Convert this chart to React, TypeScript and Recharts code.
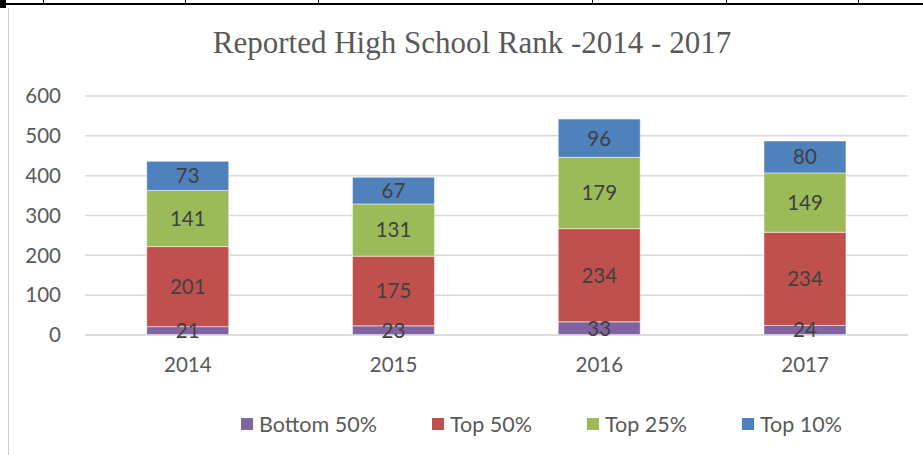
import { Bar, BarChart, CartesianGrid, LabelList, XAxis, YAxis } from "recharts";

const years = ["2014", "2015", "2016", "2017"];
const bottom50 = [21, 23, 33, 24];
const top50 = [201, 175, 234, 234];
const top25 = [141, 131, 179, 149];
const top10 = [73, 67, 96, 80];
const yTicks = [0, 100, 200, 300, 400, 500, 600];

const SERIES = [
  { key: "bottom50", name: "Bottom 50%", color: "#8064A2" },
  { key: "top50", name: "Top 50%", color: "#C0504D" },
  { key: "top25", name: "Top 25%", color: "#9BBB59" },
  { key: "top10", name: "Top 10%", color: "#4F81BD" },
];

const tableTicks = [43, 185, 318, 592, 726, 858];

const FONT = "Lato, 'Open Sans', sans-serif";

function ChartLegend() {
  return (
    <div
      style={{
        position: "absolute",
        left: 241,
        top: 411,
        display: "flex",
        gap: 55,
        fontFamily: FONT,
        fontSize: 21.5,
        color: "#595959",
        whiteSpace: "nowrap",
      }}
    >
      {SERIES.map((s) => (
        <div key={s.key} style={{ display: "flex", alignItems: "center", gap: 6 }}>
          <span style={{ width: 12, height: 12, background: s.color, display: "inline-block" }} />
          <span>{s.name}</span>
        </div>
      ))}
    </div>
  );
}

export default function App() {
  const data = years.map((year, i) => ({
    year,
    bottom50: bottom50[i],
    top50: top50[i],
    top25: top25[i],
    top10: top10[i],
  }));

  return (
    <div style={{ position: "absolute", left: 0, top: 0, width: 923, height: 455, background: "#fff", overflow: "hidden" }}>
      {/* bits of the surrounding table */}
      <div style={{ position: "absolute", left: 0, top: 3, width: 923, height: 2, background: "#000" }} />
      <div style={{ position: "absolute", left: 0, top: 0, width: 6, height: 8, background: "#000" }} />
      {tableTicks.map((x) => (
        <div key={x} style={{ position: "absolute", left: x, top: 0, width: 1, height: 5, background: "#000" }} />
      ))}
      <div style={{ position: "absolute", left: 8, top: 8, width: 1, height: 447, background: "#d0d0d0" }} />

      <div
        style={{
          position: "absolute",
          left: 22,
          top: 25,
          width: 900,
          textAlign: "center",
          fontFamily: "'Liberation Serif', serif",
          fontSize: 31,
          color: "#595959",
        }}
      >
        Reported High School Rank -2014 - 2017
      </div>

      <div style={{ position: "absolute", left: 0, top: 0 }}>
        <BarChart
          width={923}
          height={455}
          data={data}
          margin={{ top: 96, right: 15, bottom: 90, left: 0 }}
          barCategoryGap="30%"
        >
          <CartesianGrid vertical={false} stroke="#d9d9d9" strokeWidth={1.5} />
          <XAxis
            dataKey="year"
            height={30}
            axisLine={{ stroke: "#d9d9d9", strokeWidth: 1.5 }}
            tickLine={false}
            tickSize={0}
            tickMargin={22}
            tick={{ fill: "#595959", fontSize: 20.5, fontFamily: FONT }}
          />
          <YAxis
            width={85}
            domain={[0, 600]}
            ticks={yTicks}
            axisLine={false}
            tickLine={false}
            tickSize={0}
            tickMargin={24}
            tick={{ fill: "#595959", fontSize: 20.5, fontFamily: FONT }}
          />
          {SERIES.map((s) => (
            <Bar
              key={s.key}
              dataKey={s.key}
              name={s.name}
              stackId="a"
              fill={s.color}
              stroke="rgba(255,255,255,0.5)"
              strokeWidth={1}
              isAnimationActive={false}
            >
              <LabelList
                dataKey={s.key}
                position="center"
                fill="#404040"
                style={{ fontSize: 20.5, fontFamily: FONT }}
              />
            </Bar>
          ))}
        </BarChart>
      </div>
      <ChartLegend />
    </div>
  );
}
